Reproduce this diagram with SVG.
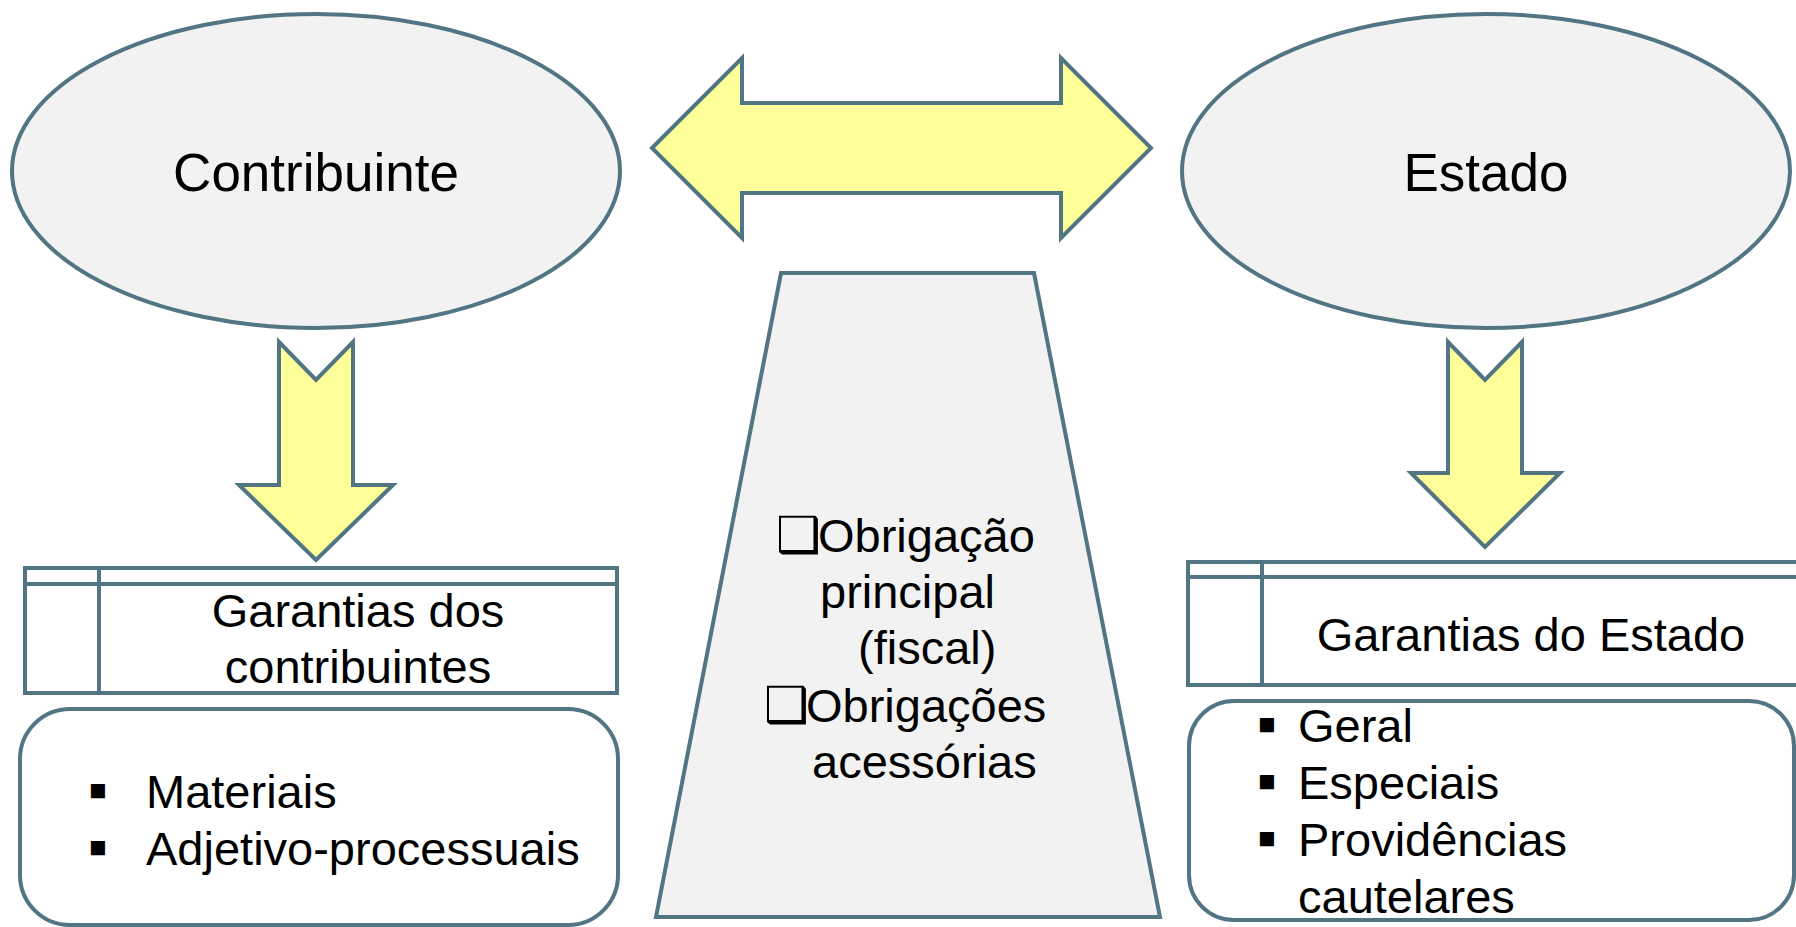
<svg xmlns="http://www.w3.org/2000/svg" width="1796" height="927" viewBox="0 0 1796 927">
<style>
.ln{stroke:#517582;stroke-width:4;stroke-linejoin:miter}
.gray{fill:#f2f2f2}
.yel{fill:#ffff99}
.wh{fill:#ffffff}
.t{font-family:"Liberation Sans",Arial,sans-serif;fill:#000}
.big{font-size:53px}
.m{font-size:47px}
.bul{font-family:"Liberation Sans",Arial,sans-serif;font-size:29px;fill:#000}
.box{font-family:"DejaVu Sans",sans-serif;font-size:50px;font-weight:bold}
</style>
<rect width="1796" height="927" fill="#ffffff"/>
<g id="contribuinte">
<ellipse class="ln gray" cx="316" cy="171" rx="304" ry="157"/>
<text class="t big" x="316" y="191" text-anchor="middle">Contribuinte</text>
</g>
<g id="estado">
<ellipse class="ln gray" cx="1486" cy="171" rx="304" ry="157"/>
<text class="t big" x="1486" y="191" text-anchor="middle">Estado</text>
</g>
<g id="obrigacoes">
<polygon class="ln gray" points="781,273 1034,273 1160,917 656,917"/>
<text class="t m"><tspan class="box" x="776" y="552">❑</tspan><tspan x="818" y="552">Obrigação</tspan></text>
<text class="t m" x="820" y="608">principal</text>
<text class="t m" x="858" y="664">(fiscal)</text>
<text class="t m"><tspan class="box" x="764" y="722">❑</tspan><tspan x="806" y="722">Obrigações</tspan></text>
<text class="t m" x="812" y="778">acessórias</text>
</g>
<g id="garantias-contribuintes">
<rect class="ln wh" x="25" y="568" width="592" height="125"/>
<line class="ln" x1="25" y1="584" x2="617" y2="584"/>
<line class="ln" x1="99" y1="568" x2="99" y2="693"/>
<text class="t m" x="358" y="627" text-anchor="middle">Garantias dos</text>
<text class="t m" x="358" y="683" text-anchor="middle">contribuintes</text>
</g>
<g id="lista-contribuintes">
<rect class="ln wh" x="20" y="709" width="598" height="216" rx="50" ry="50"/>
<text class="bul" x="89" y="800">■</text>
<text class="t m" x="146" y="808">Materiais</text>
<text class="bul" x="89" y="857">■</text>
<text class="t m" x="146" y="865">Adjetivo-processuais</text>
</g>
<g id="garantias-estado">
<rect class="ln wh" x="1188" y="562" width="630" height="123"/>
<line class="ln" x1="1188" y1="577" x2="1818" y2="577"/>
<line class="ln" x1="1262" y1="562" x2="1262" y2="685"/>
<text class="t m" x="1531" y="651" text-anchor="middle">Garantias do Estado</text>
</g>
<g id="lista-estado">
<rect class="ln wh" x="1189" y="701" width="605" height="219" rx="45" ry="45"/>
<text class="bul" x="1258" y="734">■</text>
<text class="t m" x="1298" y="742">Geral</text>
<text class="bul" x="1258" y="791">■</text>
<text class="t m" x="1298" y="799">Especiais</text>
<text class="bul" x="1258" y="848">■</text>
<text class="t m" x="1298" y="856">Providências</text>
<text class="t m" x="1298" y="913">cautelares</text>
</g>
<g id="connectors">
<polygon class="ln yel" points="652,148 742,58 742,103 1061,103 1061,58 1151,148 1061,238 1061,193 742,193 742,238"/>
<polygon class="ln yel" points="279,342 316,380 353,342 353,485 393,485 316,560 239,485 279,485"/>
<polygon class="ln yel" points="1448,342 1485,380 1522,342 1522,473 1560,473 1485,547 1411,473 1448,473"/>
</g>
</svg>
